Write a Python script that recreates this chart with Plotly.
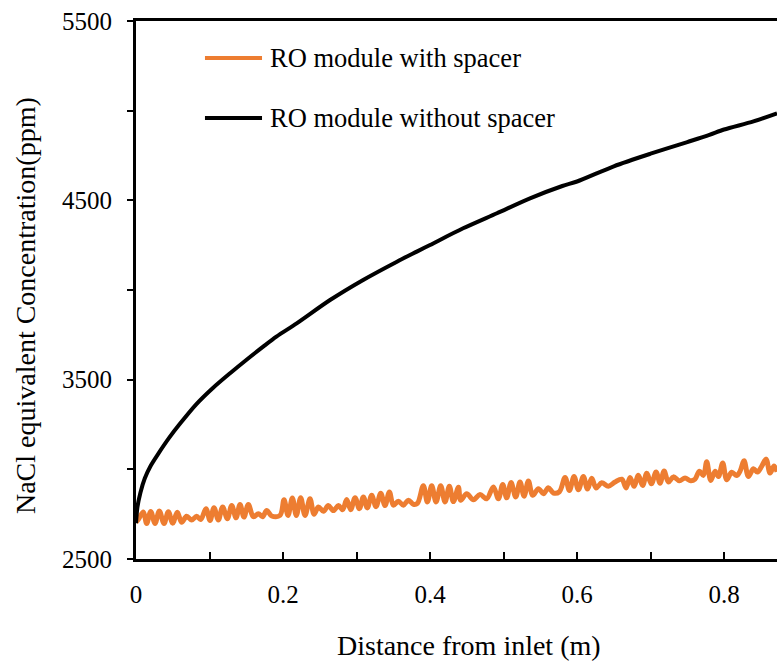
import plotly.graph_objects as go

# Distance from inlet (m) and concentration (ppm) - module without spacer
x_nospacer = [0.0, 0.002, 0.006, 0.012, 0.020, 0.030, 0.045, 0.060, 0.0825, 0.105, 0.128, 0.150, 0.173,
              0.191, 0.2186, 0.264, 0.309, 0.355, 0.382, 0.400, 0.445, 0.491, 0.536,
              0.580, 0.600, 0.650, 0.700, 0.750, 0.780, 0.800, 0.840, 0.872]
y_nospacer = [2700, 2790, 2870, 2950, 3020, 3085, 3175, 3255, 3365, 3455, 3536, 3610, 3684,
              3740, 3814, 3944, 4056, 4158, 4214, 4251, 4344, 4428, 4511,
              4580, 4605, 4690, 4760, 4825, 4865, 4895, 4940, 4985]

# Module with spacer (oscillating profile, read peak/trough by peak/trough)
x_spacer = [0.0, 0.0032, 0.0100, 0.0145, 0.0200, 0.0259, 0.0317, 0.0381, 0.0440, 0.0499, 0.0562, 0.0621,
            0.0689, 0.0757, 0.0825, 0.0880,
            0.0952, 0.1007, 0.1061, 0.1120, 0.1179, 0.1243, 0.1302, 0.1361, 0.1415, 0.1469, 0.1528,
            0.1596, 0.1664, 0.1723, 0.1778, 0.1846, 0.1959,
            0.2014, 0.2068, 0.2127, 0.2181, 0.2240, 0.2299, 0.2367, 0.2422,
            0.2481, 0.2549, 0.2617, 0.2685, 0.2753, 0.2812,
            0.2866, 0.2921, 0.2980, 0.3039, 0.3093, 0.3147, 0.3206, 0.3265, 0.3329, 0.3388, 0.3447, 0.3501,
            0.3569, 0.3637, 0.3705, 0.3773, 0.3828,
            0.3909, 0.3964, 0.4023, 0.4082, 0.4145, 0.4204, 0.4263, 0.4318, 0.4386, 0.4417,
            0.4499, 0.4590, 0.4680, 0.4771,
            0.4862, 0.4930, 0.4989, 0.5043, 0.5102, 0.5166, 0.5224, 0.5279, 0.5338, 0.5397,
            0.5474, 0.5542, 0.5610, 0.5678, 0.5760,
            0.5837, 0.5896, 0.5959, 0.6018, 0.6086, 0.6141, 0.6200, 0.6259,
            0.6336, 0.6426, 0.6517,
            0.6608, 0.6667, 0.6721, 0.6776, 0.6834, 0.6893, 0.6948, 0.7011, 0.7075, 0.7129, 0.7184, 0.7243,
            0.7311, 0.7392, 0.7469, 0.7547, 0.7605,
            0.7664, 0.7719, 0.7764, 0.7819, 0.7878, 0.7923, 0.7982, 0.8036, 0.8104, 0.8172, 0.8218,
            0.8272, 0.8331, 0.8399, 0.8453, 0.8513, 0.8571, 0.8626, 0.8680, 0.8721]
y_spacer = [2705, 2720, 2762, 2698, 2765, 2698, 2768, 2698, 2764, 2700, 2760, 2705,
            2738, 2717, 2738, 2720,
            2780, 2715, 2786, 2718, 2790, 2725, 2798, 2730, 2804, 2734, 2804,
            2736, 2752, 2736, 2770, 2740, 2743,
            2830, 2743, 2840, 2743, 2842, 2743, 2836, 2750,
            2790, 2766, 2798, 2770, 2798, 2775,
            2832, 2775, 2842, 2780, 2846, 2785, 2855, 2792, 2866, 2798, 2874, 2800,
            2822, 2800, 2828, 2805, 2810,
            2908, 2818, 2908, 2818, 2908, 2818, 2906, 2820, 2900, 2827,
            2864, 2830, 2860, 2836,
            2902, 2836, 2916, 2841, 2926, 2846, 2930, 2850, 2935, 2855,
            2892, 2864, 2897, 2868, 2875,
            2955, 2882, 2960, 2886, 2960, 2891, 2950, 2896,
            2925, 2906, 2929,
            2945, 2896, 2954, 2905, 2967, 2910, 2978, 2919, 2985, 2923, 2991, 2929,
            2958, 2936, 2952, 2936, 2945,
            2990, 2966, 3042, 2938, 2990, 2960, 3035, 2942, 2984, 2965, 2990,
            3048, 2960, 3003, 2985, 3018, 3057, 2979, 3018, 2987]

x_tickvals = [0, 0.1, 0.2, 0.3, 0.4, 0.5, 0.6, 0.7, 0.8]
x_ticktext = ["0", "", "0.2", "", "0.4", "", "0.6", "", "0.8"]
y_tickvals = [2500, 3000, 3500, 4000, 4500, 5000, 5500]
y_ticktext = ["2500", "", "3500", "", "4500", "", "5500"]

series_names = ["RO module with spacer", "RO module without spacer"]
x_title = "Distance from inlet (m)"
y_title = "NaCl equivalent Concentration(ppm)"
ORANGE = "#ED7D31"
FONT = "Liberation Serif"

fig = go.Figure()
fig.add_trace(go.Scatter(x=x_spacer, y=y_spacer, mode="lines", name=series_names[0],
                         line=dict(color=ORANGE, width=5, shape="spline", smoothing=1.0),
                         showlegend=False))
fig.add_trace(go.Scatter(x=x_nospacer, y=y_nospacer, mode="lines", name=series_names[1],
                         line=dict(color="black", width=4, shape="spline", smoothing=0.8),
                         showlegend=False))

# manual legend
legend_y = [0.931, 0.8197]
legend_colors = [ORANGE, "black"]
for nm, yy, col in zip(series_names, legend_y, legend_colors):
    fig.add_shape(type="line", xref="paper", yref="paper", x0=0.1076, x1=0.1966, y0=yy, y1=yy,
                  line=dict(color=col, width=4))
    fig.add_annotation(xref="paper", yref="paper", x=0.2059, y=yy, text=nm, showarrow=False,
                       xanchor="left", yanchor="middle", font=dict(family=FONT, size=26.5, color="black"))

# axis titles (the reference image is cropped at the right, so titles sit off-centre)
fig.add_annotation(xref="paper", yref="paper", x=0.52, y=-0.1605, text=x_title, showarrow=False,
                   xanchor="center", yanchor="middle", font=dict(family=FONT, size=28, color="black"))
fig.add_annotation(xref="paper", yref="paper", x=-0.1732, y=0.472, text=y_title, showarrow=False,
                   textangle=-90, xanchor="center", yanchor="middle",
                   font=dict(family=FONT, size=28, color="black"))

fig.update_layout(
    width=777, height=661,
    margin=dict(l=136, r=0, t=21, b=102, autoexpand=False),
    plot_bgcolor="white", paper_bgcolor="white",
    font=dict(family=FONT, size=22, color="black"),
    xaxis=dict(range=[0, 0.872], tickvals=x_tickvals, ticktext=x_ticktext,
               ticks="inside", ticklen=7, tickwidth=2, tickcolor="black",
               showline=True, linewidth=3, linecolor="black", mirror=True,
               showgrid=False, zeroline=False, ticklabelstandoff=11, automargin=False,
               tickfont=dict(family=FONT, size=25)),
    yaxis=dict(range=[2500, 5500], tickvals=y_tickvals, ticktext=y_ticktext,
               ticks="outside", ticklen=6, tickwidth=2, tickcolor="black",
               showline=True, linewidth=3, linecolor="black",
               showgrid=False, zeroline=False, ticklabelstandoff=10, automargin=False,
               tickfont=dict(family=FONT, size=25)),
)

fig.write_html("out.html",
               config={"displayModeBar": False},
               post_script="document.body.style.margin='0';document.body.style.padding='0';"
                           "document.body.style.overflow='hidden';")
